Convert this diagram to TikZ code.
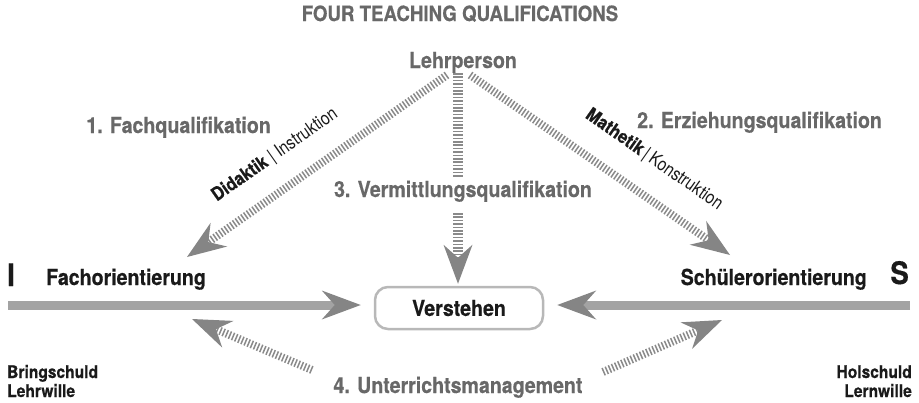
\documentclass[tikz,border=0pt]{standalone}
\usepackage{fontspec}
\setmainfont{TeX Gyre Heros}[FakeStretch=0.89, BoldFeatures={FakeBold=0.5}]
\newfontfamily\thinfont{TeX Gyre Heros}[FakeStretch=0.84]
\usetikzlibrary{arrows.meta}

\definecolor{labelgray}{HTML}{686868}
\definecolor{ink}{HTML}{1A1A1A}
\definecolor{shaftgray}{HTML}{A3A3A3}
\definecolor{headgray}{HTML}{858585}
\definecolor{hatchgray}{HTML}{8A8A8A}
\definecolor{boxgray}{HTML}{B8B8B8}

\tikzset{
  qual/.style={font=\bfseries\fontsize{22}{24}\selectfont, text=labelgray, inner sep=0pt},
  orient/.style={font=\bfseries\fontsize{22}{24}\selectfont, text=ink, inner sep=0pt},
  pole/.style={font=\bfseries\fontsize{31}{34}\selectfont, text=ink, inner sep=0pt},
  duty/.style={font=\bfseries\fontsize{17.5}{19}\selectfont, text=ink, inner sep=0pt},
  tagline/.style={font=\fontsize{18.5}{20}\selectfont, text=ink, inner sep=0pt},
  qhead/.style={-{Stealth[length=39pt,width=29pt,inset=13pt,color=headgray,line width=0pt]}},
  hatched/.style={qhead, draw=hatchgray, line width=8pt, dash pattern=on 1.5pt off 1.9pt},
  mainflow/.style={qhead, draw=shaftgray, line width=9pt},
  goal/.style={draw=boxgray, line width=2.5pt, rounded corners=13pt,
    minimum width=168pt, minimum height=42pt, inner sep=0pt,
    font=\bfseries\fontsize{22}{24}\selectfont, text=ink}
}

\begin{document}
\begin{tikzpicture}[x=1pt, y=-1pt]
  \useasboundingbox (0,0) rectangle (919,402);

  % headings and qualification labels
  \node[qual, anchor=base, font=\bfseries\fontsize{21}{22}\selectfont] (title) at (460,21) {FOUR TEACHING QUALIFICATIONS};
  \node[qual, anchor=base] (lehr) at (463,68) {Lehrperson};
  \node[qual, anchor=base east] (q1) at (271,133) {1. Fachqualifikation};
  \node[qual, anchor=base west] (q2) at (637,128) {2. Erziehungsqualifikation};
  \node[qual, anchor=base] (q3) at (463,197) {3. Vermittlungsqualifikation};
  \node[qual, anchor=base] (q4) at (458,393) {4. Unterrichtsmanagement};

  % the two poles
  \node[pole, anchor=base west] (poleI) at (7,286) {I};
  \node[orient, anchor=base west] (fach) at (46,285) {Fachorientierung};
  \node[pole, anchor=base east] (poleS) at (909,284) {S};
  \node[orient, anchor=base east] (schueler) at (867,285) {Schülerorientierung};

  \node[duty, anchor=base west] (bring) at (7,378) {Bringschuld};
  \node[duty, anchor=base west] (lehrwille) at (7,397) {Lehrwille};
  \node[duty, anchor=base east] (hol) at (912,378) {Holschuld};
  \node[duty, anchor=base east] (lernwille) at (912,397) {Lernwille};

  % goal
  \node[goal] (verstehen) at (459,308) {Verstehen};

  % anchor points of the connectors
  \coordinate (lehrL) at (447,75);
  \coordinate (lehrM) at (458,73);
  \coordinate (lehrR) at (470,75);
  \coordinate (q3in) at (458,177);
  \coordinate (q3out) at (458,213);
  \coordinate (fachTip) at (187,257);
  \coordinate (schuelerTip) at (730,255);
  \coordinate (leftStart) at (8,305);
  \coordinate (rightStart) at (910,305);
  \coordinate (q4L) at (312,370);
  \coordinate (q4R) at (603,372);
  \coordinate (backL) at (192,319);
  \coordinate (backR) at (722,320);

  % main flows towards understanding
  \draw[mainflow, shorten >=13pt] (leftStart) -- (verstehen.west |- leftStart);
  \draw[mainflow, shorten >=13pt] (rightStart) -- (verstehen.east |- rightStart);

  % qualification arrows
  \draw[hatched] (lehrL) -- (fachTip);
  \draw[hatched] (lehrR) -- (schuelerTip);
  \draw[hatched, line width=10pt, -] (lehrM) -- (q3in);
  \draw[hatched, line width=10pt, shorten >=2pt] (q3out) -- (verstehen.north -| q3out);
  \draw[hatched] (q4L) -- (backL);
  \draw[hatched] (q4R) -- (backR);

  % labels along the diagonals
  \node[tagline, rotate=35] (didaktik) at (275,155)
    {\textbf{Didaktik} {\thinfont | Instruktion}};
  \node[tagline, rotate=-35] (mathetik) at (654,160)
    {\textbf{Mathetik}{\thinfont\,|\,Konstruktion}};
\end{tikzpicture}
\end{document}
